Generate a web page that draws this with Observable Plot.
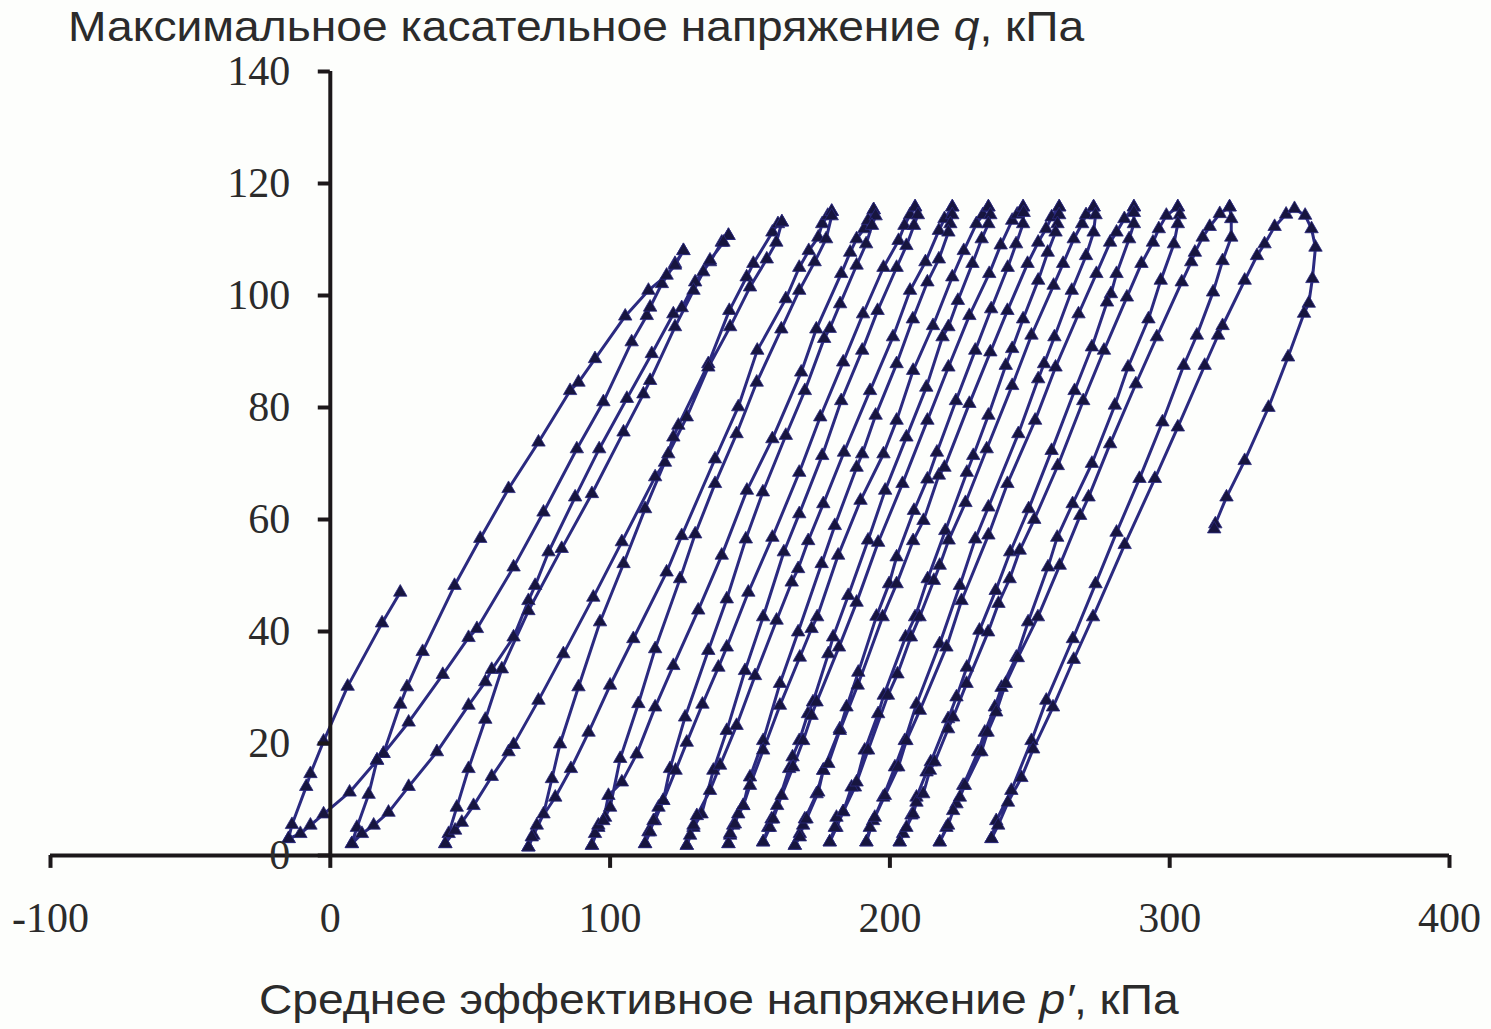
<!DOCTYPE html>
<html lang="ru">
<head>
<meta charset="utf-8">
<script src="https://cdn.jsdelivr.net/npm/d3@7"></script>
<script src="https://cdn.jsdelivr.net/npm/@observablehq/plot@0.6"></script>
<style>
html,body{margin:0;padding:0;background:#fdfefc;}
#wrap{position:relative;width:1491px;height:1029px;overflow:hidden;}
.cap{position:absolute;white-space:nowrap;font-family:"Liberation Sans",Arial,sans-serif;font-size:42px;color:#2b2b2b;line-height:1;transform-origin:left top;transform:scaleX(1.1);}
.cap i{font-style:italic;}
</style>
</head>
<body>
<div id="wrap">
<div id="chart"></div>
<div class="cap" style="left:68px;top:6px">Максимальное касательное напряжение <i>q</i>, кПа</div>
<div class="cap" style="left:259px;top:979px">Среднее эффективное напряжение <i>p′</i>, кПа</div>
</div>
<script>
const xTicks = [-100, 0, 100, 200, 300, 400];
const yTicks = [0, 20, 40, 60, 80, 100, 120, 140];

const start = [[25,47],[18.5,41.5],[6.2,30.2],[-2.4,20.4],[-7.1,14.6],[-8.6,12.3],[-13.7,5.5],[-14.9,3]];
const up1 = [[-14.9,3],[-10.7,3.9],[-7.1,5.4],[-2.4,7.4],[6.9,11.3],[16.7,17],[19,18.2],[28,23.8],[40.2,32.3],[49.4,38.9],[52.4,40.5],[65.5,51.5],[76.2,61.3],[88.1,72.6],[97.6,81],[107.7,91.7],[113.1,96.4],[114.3,97.9],[118.5,102.1],[123.2,105.7],[126.2,108]];
const down1 = [[126.2,108],[123.2,105.4],[120.2,103.6],[113.7,100.9],[105.4,96.3],[94.6,88.7],[88.7,84.5],[85.7,83],[74.4,73.8],[63.7,65.5],[53.6,56.6],[44.4,48.2],[33,36.4],[27.4,30.1],[25,27],[19,18.2],[16.7,17],[13.7,10.9],[9.5,5],[7.7,2.1]];
const up2 = [[7.7,2.1],[11.3,3.9],[15.5,5.4],[20.8,7.7],[28,12.3],[38.1,18.5],[49.4,26.8],[55.4,31],[57.7,33.2],[65.5,39],[70.8,45.5],[73.2,48.2],[78,54.2],[87.5,64],[96.1,72.6],[106,81.6],[114.9,89.6],[122.6,96.7],[125.6,97.8],[130.4,102.4],[135.7,106],[139.9,109.5],[142.3,110.7]];
const down2 = [[142.3,110.7],[140.5,109.5],[135.7,106.3],[133.3,104.2],[129.8,100.9],[123.2,94.4],[114.3,84.8],[111.9,82.4],[104.8,75.6],[93.5,64.6],[82.7,54.8],[70.8,43.7],[61.3,33.3],[55.4,24.3],[49.4,15.5],[45.2,8.6],[42.3,3.9],[41.1,2.1]];
const up3 = [[41.1,2.1],[44.6,4.5],[47,5.9],[51.2,8.9],[57.7,14.1],[63.7,18.5],[65.5,19.8],[74.4,27.7],[83.3,36],[94,46.1],[104.2,56],[116.1,67.6],[119.6,70.2],[122.6,74.7],[124.4,76.8],[135.1,87.8],[142.6,97.3],[148.8,103.3],[151.2,105.7],[158,111.3],[160,112.8],[161.4,113.1]];
const down3 = [[161.4,113.1],[159.4,109.5],[156,106.5],[150,101.5],[142.9,94.4],[135.1,87.2],[127.4,78.3],[120.8,71.7],[112.5,61.9],[104.8,52.1],[96.4,41.7],[88.7,30.1],[82.1,19.9],[79.2,13.7],[76.2,7.4],[72.6,3.6],[70.8,1.5]];
const up4 = [[70.8,1.5],[72,3.3],[73.8,5.4],[80.4,10.4],[86,15.5],[92.3,22],[100,30.4],[108.3,38.7],[120.2,50.6],[125.6,57.1],[137.5,70.8],[145.8,80.1],[152.6,90.2],[162.8,99.4],[167.6,105],[171,108],[174.4,110.4],[175.8,112.8],[177.8,114.3],[179.2,115]];
const down4 = [[179.2,115],[179.2,114.2],[177.2,110.1],[173.1,106],[167.6,100.9],[161.2,94],[152.4,84.5],[145.2,75.3],[137.5,66.4],[130.4,57.4],[125,49.4],[116.1,36.9],[110.1,27.1],[103.6,17.3],[100,8.6],[98.2,6.8],[95.8,5],[93.5,1.8]];
const up5 = [[93.5,1.8],[94.6,3.9],[95.8,5.4],[97.6,6.2],[99.4,10.7],[104.2,13.1],[109.5,18.1],[116.1,26.5],[122.6,33.9],[131.5,43.8],[139.9,53.6],[148.9,65.2],[158,74.4],[168.3,86.3],[173.7,94],[182.6,103.9],[185.8,107.7],[188.1,110.1],[190.8,111.9],[192.2,113.4],[194.2,115.3]];
const down5 = [[194.2,115.3],[194.9,114.2],[193.6,112.5],[191.5,109.2],[188.1,105.4],[182.2,98.5],[178.5,94.1],[176.5,92.3],[169.6,83],[162.8,75],[154.6,64.9],[148.5,56.5],[141.7,45.8],[135.1,36.6],[126.8,24.7],[121.4,15.5],[119,9.8],[116,6.2],[113.7,4.2],[112.5,2.1]];
const up6 = [[112.5,2.1],[114.3,4.2],[115.5,6.2],[117.3,8.6],[119,9.8],[123.4,15.2],[127.4,20.2],[133,27],[138.7,33.6],[141.7,37.2],[149.4,47],[158,56.8],[167.6,68.4],[175.1,78.3],[183.3,88.1],[190.4,96.7],[197.7,105],[203.1,109.8],[205.2,112.5],[207.2,114.4],[209,115.8]];
const down6 = [[209,115.8],[210,114.4],[208.6,112.5],[205.9,108.9],[202.4,105],[195.6,97.3],[190.1,90.2],[182.6,81.2],[175.8,71.4],[167.6,61],[162.1,54.2],[154.7,42.6],[148.2,33],[141.7,22.3],[136.9,15.2],[132.7,7.4],[129.8,5],[127.4,1.8]];
const up7 = [[127.4,1.8],[128.6,3.6],[129.8,5.4],[131,7.1],[135.7,11.6],[139.3,16.1],[145.2,23.2],[151.8,32.1],[159.5,42],[164.9,48.8],[167.2,51.2],[170.8,56.2],[176.2,62.8],[183.6,72],[192.9,83],[201.1,92.6],[207.2,100.9],[212.7,106],[217.5,111.6],[219.5,113.7],[222.3,115.8]];
const down7 = [[222.3,115.8],[222.3,114.4],[221.6,112.8],[220.9,111.3],[217.5,106.5],[213.4,102.4],[208.2,95.8],[202.4,87.8],[194.9,78.6],[190.1,71.7],[188.1,69.3],[180.3,58.9],[175.6,52.1],[167.2,39.9],[160.7,30.7],[154.7,20.5],[150,14],[147.6,8.9],[144,5.4],[142.9,3.6],[142.3,2.1]];
const up8 = [[142.3,2.1],[142.9,3.9],[144.6,5.6],[145.8,7.4],[147.6,8.9],[150,12.5],[154.7,18.8],[160.7,26.8],[167.8,35.4],[172,40.5],[174,42.6],[181.5,53.6],[189.5,63.4],[197.7,71.7],[202.4,77.7],[208.3,86.6],[215.4,94.6],[222.3,103.3],[226.4,108],[230.9,112.8],[233.2,114.4],[235.2,115.8]];
const down8 = [[235.2,115.8],[235.9,114.4],[235.2,112.8],[232.8,110.1],[229.5,105.7],[224.3,99.1],[220.9,94.4],[218.8,92.6],[213,83.6],[205.9,74.7],[198.3,65.2],[192.2,56.3],[185.1,46.4],[179.7,39],[178,36],[172.5,27.4],[170.7,25.3],[167.6,20.5],[165.2,17.6],[164,15.5],[159.7,8.9],[157.7,6.5],[156.5,5],[154.7,2.4]];
const up9 = [[154.7,2.4],[157.1,5],[158.3,6.5],[161.3,10.7],[165.4,15.8],[169,20.5],[172,25],[173.8,27.4],[181.8,37.2],[188.1,45.2],[195.8,55.9],[204.5,66.4],[213.4,77.7],[220.9,87.2],[228.4,96.4],[235.5,103.9],[239.6,109],[243.7,113.4],[245.5,114.5],[247.6,115.8]];
const down9 = [[247.6,115.8],[247.8,114.8],[247.6,112.8],[245.1,109.2],[242.1,105],[236.2,97.6],[230.5,90.2],[223.6,81.2],[216.8,72],[213.4,67.2],[208.6,61.6],[202.4,53.3],[199.7,48.5],[195.2,42.7],[188.7,32.7],[184.5,26.5],[182.1,22.6],[176.2,15.2],[173.8,11],[169.6,6.5],[167.8,3.9],[166,1.8]];
const up10 = [[166,1.8],[167.8,3.3],[169,5.4],[170.2,6.5],[174.4,11.3],[176.2,15.2],[178,16.4],[182.1,22.3],[188.5,30.4],[197.4,42.6],[202.4,48.5],[208.3,56.2],[212,59.8],[217.5,67.9],[219.5,69.3],[228.4,80.7],[235.9,89.9],[242,97.3],[249.2,105.7],[253,109.5],[255.8,111.9],[257.8,114],[260.5,115.8]];
const down10 = [[260.5,115.8],[260.5,114.4],[259.9,112.8],[259.2,111.3],[256.4,107.7],[253,102.7],[247.6,95.8],[243.7,90.5],[241.4,87.5],[235.2,78.6],[229.8,71.4],[227.5,68.4],[219.8,58],[213.5,49.4],[209,42.6],[205.6,39],[197.8,28.6],[195.8,25.3],[191,18.8],[187.5,12.2],[183.3,7.8],[180.9,5],[178.5,2.4]];
const up11 = [[178.5,2.4],[180.3,5],[180.9,6.8],[183.3,7.8],[186.3,12.2],[188.1,13.1],[192.2,18.8],[199.3,28.6],[202.7,32.4],[207.5,39],[210.6,42.6],[215.7,49.1],[217.8,51.8],[221,56.3],[227,63],[234.6,72.6],[243.7,83.9],[250.6,92.9],[258.5,101.8],[261.9,105.7],[265.7,110.1],[268.7,112.8],[270.1,114.4],[272.8,115.8]];
const down11 = [[272.8,115.8],[273.5,114.4],[272.8,111.3],[270.1,107.1],[265,100.9],[258.8,92.6],[255.1,87.8],[253,85.1],[245.9,75.3],[235.2,62.2],[230.5,56.5],[225,48.2],[217.8,37.8],[209.5,27],[205.3,20.5],[201.8,15.8],[197.6,10.4],[194,6.2],[191.6,2.4]];
const up12 = [[191.6,2.4],[192.8,5],[194.6,6.8],[198.2,10.7],[203,15.8],[205.9,20.5],[210.7,25.9],[220.2,37.2],[225.6,45.5],[235.2,57.2],[242,66.4],[251.9,77.7],[259.2,87.2],[267.4,96.7],[273.8,103.9],[278.7,109.5],[281,111.3],[283.8,113.7],[287.2,115.8]];
const down12 = [[287.2,115.8],[287.2,114.8],[287.2,112.8],[285.5,110.1],[281,103.9],[279,100.3],[277.6,98.8],[272.2,90.8],[266,83],[257.8,72.3],[249.6,61.9],[243,54.2],[237.8,47.3],[232,40.2],[227.5,33.6],[223.8,28.3],[220.8,24.4],[214.6,16.7],[213.1,14.9],[209.5,10.4],[207.7,7.2],[204.7,3.9],[203.5,2.4]];
const up13 = [[203.5,2.4],[205.9,5],[208.3,7.4],[209.5,9.5],[211.9,11],[214.3,15.2],[216,16.7],[220.8,22.6],[222.6,24.7],[227.4,30.7],[235.1,39.9],[238.8,45],[242.8,49.4],[246.4,54.5],[251.6,60],[260,69.6],[269.1,81.2],[276.5,90.2],[284.7,99.7],[289.9,105.7],[294,109.5],[296.1,111.9],[298.8,114.3],[302.9,115.8]];
const down13 = [[302.9,115.8],[303.6,114.4],[302.9,112.8],[301.5,109.2],[296.8,102.7],[292.4,95.8],[285.1,87.2],[280.4,80.4],[272.2,70],[265.3,62.8],[259.8,56.8],[256.5,51.5],[249.4,41.7],[245.2,35.4],[239.9,30],[237.5,26.5],[233.9,22],[231.5,18.5],[226.2,12.5],[223.8,9.2],[220.2,5],[217.8,2.4]];
const up14 = [[217.8,2.4],[220.8,5.4],[222.6,8],[225,10.4],[226.8,12.5],[232.7,18.5],[234.9,22],[238,25.6],[241.4,30.7],[245.7,35.3],[252.9,42.6],[260.7,51.8],[268,60.7],[271,64],[278.7,73.5],[287.9,84.2],[295.4,92.6],[304.3,102.4],[307.7,106],[309,107.7],[311.8,110.4],[314.3,112.3],[317.9,114.6],[321.4,115.8]];
const down14 = [[321.4,115.8],[322,113.7],[322,110.4],[318.9,106.2],[315.5,100.6],[309.7,92.9],[305,87.5],[297.4,77.4],[289.2,67.3],[281,57.7],[273.5,48.5],[265.4,38.7],[255.9,27.7],[250.6,20.5],[243.4,11.6],[238,6.2],[236.3,3]];
const up15 = [[236.3,3],[238.7,5.4],[242.2,9.5],[247,13.9],[251.2,19],[258.3,26.5],[265.7,35],[272.6,42.6],[283.9,55.5],[294.7,67.3],[302.9,76.5],[312.5,87.5],[317.3,92.9],[318.9,94.6],[326.8,102.7],[331.2,107.1],[333.9,109.2],[337.5,112.3],[341.6,114.5],[344.6,115.5],[348.4,114.3],[350.7,111.9],[352.1,108.6]];
const down15 = [[351,103],[349.7,98.6],[348,96.8],[342.3,89],[335.3,80],[326.8,70.5],[320.3,64],[316.3,59.2],[315.9,58.3]];

const branches = [start, up1, down1, up2, down2, up3, down3, up4, down4, up5, down5, up6, down6, up7, down7, up8, down8, up9, down9, up10, down10, up11, down11, up12, down12, up13, down13, up14, down14, up15, down15];
const path = branches.flat().map(([p, q]) => ({p, q}));

const axisColor = "#1c181a";
const chart = Plot.plot({
  width: 1491,
  height: 1029,
  marginLeft: 50,
  marginRight: 42,
  marginTop: 71,
  marginBottom: 174,
  style: {background: "transparent", overflow: "visible"},
  x: {domain: [-100, 400], axis: null},
  y: {domain: [0, 140], axis: null},
  marks: [
    Plot.line(path, {x: "p", y: "q", stroke: "#2b2a80", strokeWidth: 3}),
    Plot.dot(path, {x: "p", y: "q", symbol: "triangle", r: 5, fill: "#17153f", stroke: "#2b2a80", strokeWidth: 0.8}),
    Plot.ruleY([0], {stroke: axisColor, strokeWidth: 4}),
    Plot.ruleX([0], {y1: 0, y2: 140, stroke: axisColor, strokeWidth: 4}),
    Plot.ruleX(xTicks, {x: d => d, y1: 0, y2: -2.3, stroke: axisColor, strokeWidth: 4}),
    Plot.ruleY(yTicks, {y: d => d, x1: 0, x2: -4.3, stroke: axisColor, strokeWidth: 4}),
    Plot.text(yTicks, {x: 0, y: d => d, text: d => String(d), dx: -40, textAnchor: "end", fontFamily: "Liberation Serif", fontSize: 42, fill: "#2b2b2b", lineAnchor: "middle"}),
    Plot.text(xTicks, {x: d => d, y: 0, text: d => String(d), dy: 63, textAnchor: "middle", fontFamily: "Liberation Serif", fontSize: 42, fill: "#2b2b2b", lineAnchor: "middle"})
  ]
});
document.getElementById("chart").appendChild(chart);
</script>
</body>
</html>
